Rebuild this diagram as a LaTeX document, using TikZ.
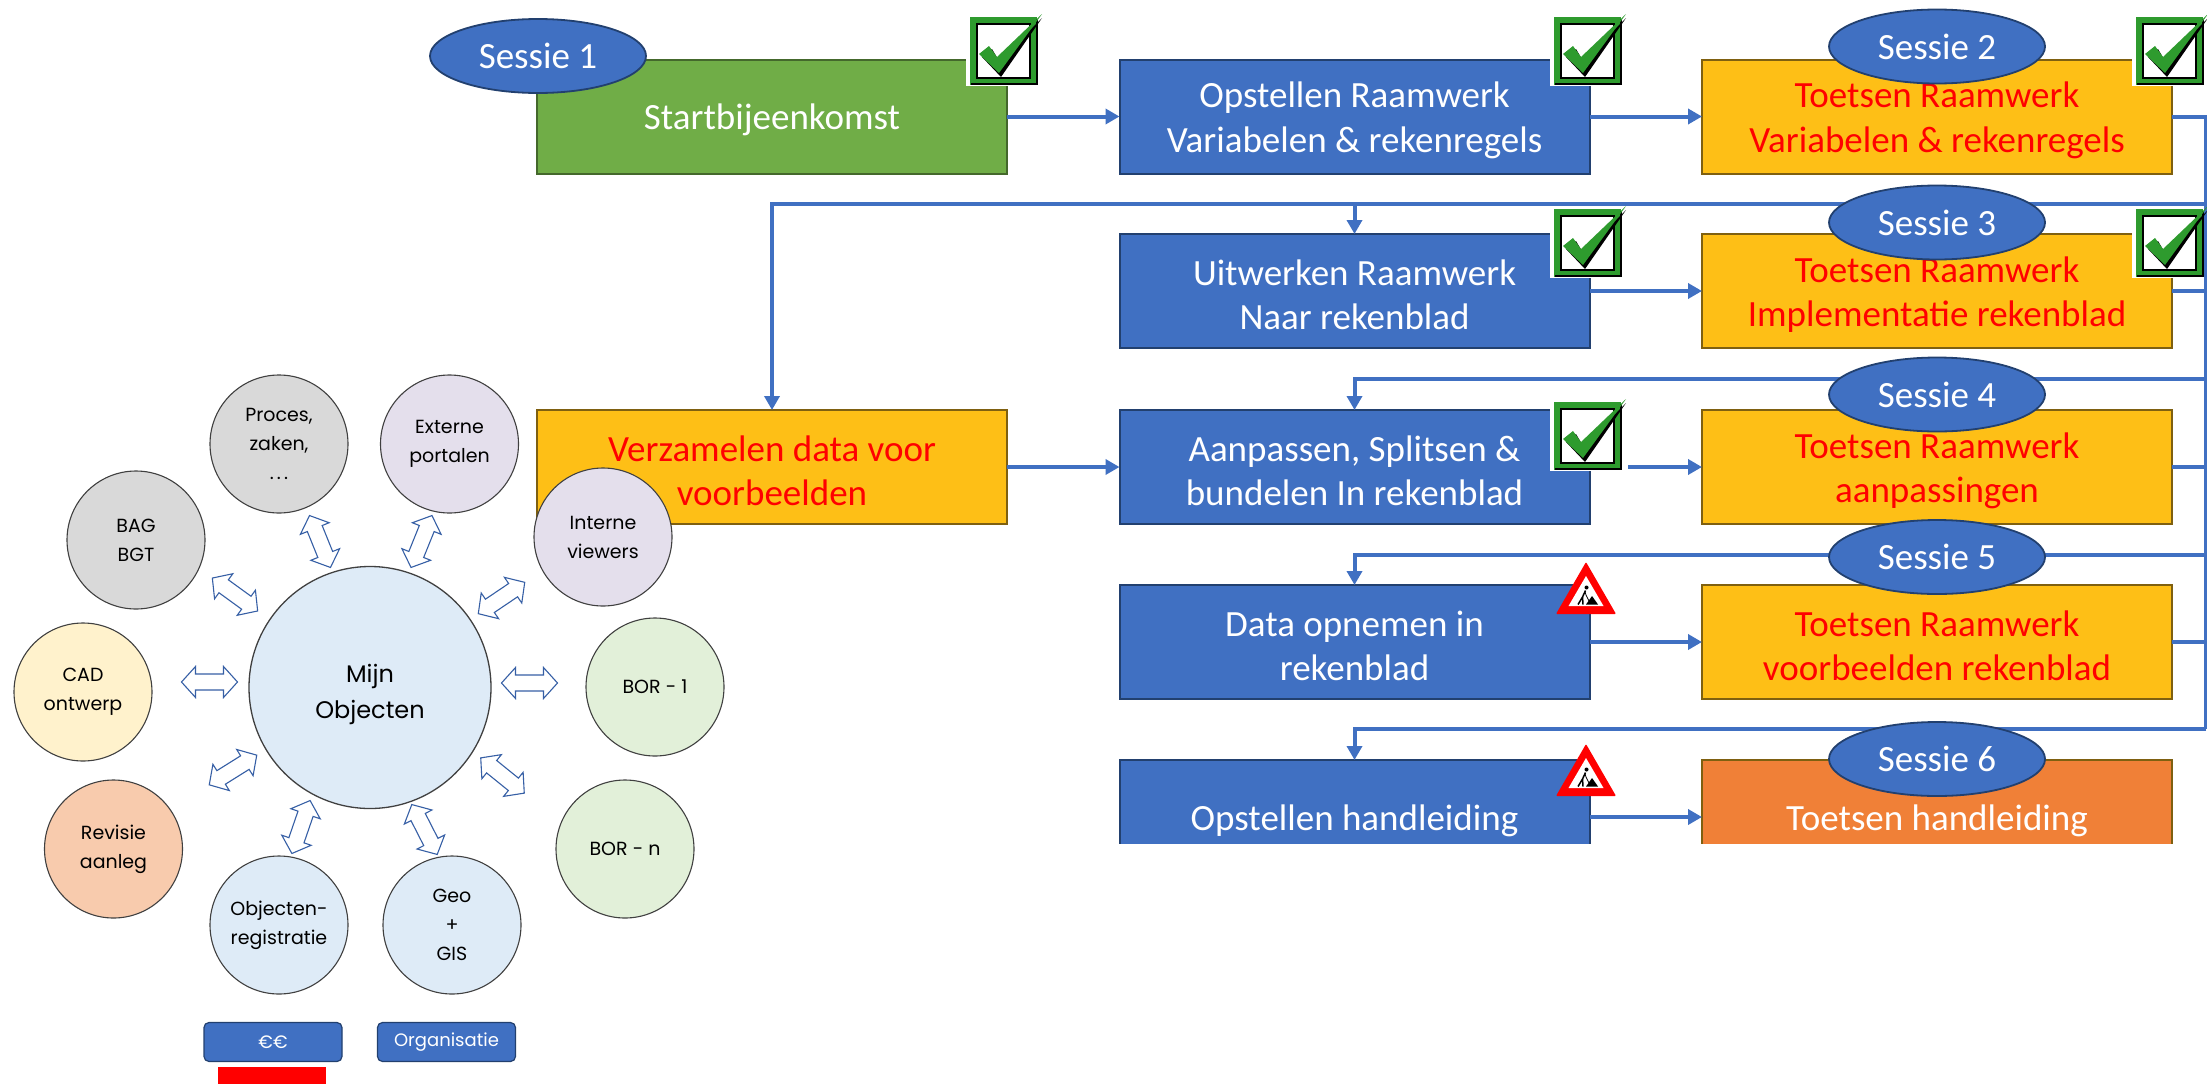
\documentclass[tikz,border=0pt]{standalone}
\usepackage{fontspec}
\setmainfont{Carlito}
\newfontfamily\gothic{Poppins}
\usetikzlibrary{arrows.meta,shapes.geometric}
\definecolor{bl}{HTML}{4070C2}
\definecolor{bld}{HTML}{22406F}
\definecolor{gr}{HTML}{70AD47}
\definecolor{grd}{HTML}{44682C}
\definecolor{ye}{HTML}{FEBF16}
\definecolor{yed}{HTML}{7F6010}
\definecolor{orng}{HTML}{F08037}
\definecolor{tick}{HTML}{2E9B2E}
\definecolor{cblue}{HTML}{DEEBF7}
\definecolor{cgray}{HTML}{D9D9D9}
\definecolor{clav}{HTML}{E4DFEC}
\definecolor{cgreen}{HTML}{E2F0D9}
\definecolor{ccream}{HTML}{FFF2CC}
\definecolor{corng}{HTML}{F8CBAD}
\newcommand{\topfix}{\rule{0pt}{33pt}}
\tikzset{
  box/.style={draw=#1,line width=2pt,minimum width=470pt,minimum height=114pt,inner sep=0pt,outer sep=0pt,align=center,font=\fontsize{37}{44.6}\selectfont},
  bluebox/.style={box=bld,fill=bl,text=white},
  yelbox/.style={box=yed,fill=ye,text=red},
  grnbox/.style={box=grd,fill=gr,text=white},
  ornbox/.style={box=yed,fill=orng,text=white},
  sess/.style={ellipse,draw=bld,line width=1.8pt,fill=bl,text=white,minimum width=216pt,minimum height=74pt,inner sep=0pt,outer sep=0pt,font=\fontsize{37}{40}\selectfont},
  flow/.style={draw=bl,line width=4pt},
  flowa/.style={flow,-{Triangle[length=14pt,width=15pt]}},
  sat/.style={circle,draw=black!75,line width=1.1pt,fill=#1,minimum size=138pt,inner sep=0pt,outer sep=0pt,align=center,font=\gothic\fontsize{19}{29}\selectfont,text=black},
  btn/.style={draw=bld,line width=1.2pt,fill=bl,text=white,rounded corners=5pt,minimum width=138pt,minimum height=39pt,inner sep=0pt,font=\gothic\fontsize{18}{22}\selectfont},
  dbl/.style={draw=bl!85!black,line width=1.1pt,fill=white,line join=miter},
  okbox/.pic={
    \fill[white] (-2,-1) rectangle (70,71);
    \draw[tick,line width=6pt] (5,5) rectangle (66,67);
    \draw[black,line width=2pt] (9,9) rectangle (62,63);
    \draw[black,line width=2pt] (3,69) -- (69,69) -- (69,4);
    \fill[black] (14,42) -- (24,34) -- (31,46) -- (74,3) -- (33,62) -- cycle;
    \fill[tick] (11,39) -- (21,31) -- (29,42) -- (74,-1) -- (31,58) -- cycle;
  },
  warn/.pic={
    \fill[red,rounded corners=1pt] (0,-1) -- (30,51) -- (-30,51) -- cycle;
    \fill[white] (0,13) -- (17.5,43) -- (-17.5,43) -- cycle;
    \fill[black] (0,41.5) -- (6,33) -- (12,41.5) -- cycle;
    \fill[black] (0.5,24.5) circle (2);
    \draw[black,line width=1.5pt] (-0.5,27.5) -- (-3.5,34) -- (-8,41.5);
    \draw[black,line width=1.5pt] (-3.5,34) -- (-3,41.5);
    \draw[black,line width=0.8pt] (-1,29) -- (0,32) -- (3,38);
  },
}
\newcommand{\dblarr}[3]{%
  \draw[dbl,shift={(#1,#2)},rotate=#3]
    (-28,0) -- (-14,15.5) -- (-14,8) -- (14,8) -- (14,15.5) -- (28,0)
    -- (14,-15.5) -- (14,-8) -- (-14,-8) -- (-14,-15.5) -- cycle;}
\begin{document}
\begin{tikzpicture}[x=1pt,y=-1pt]
\useasboundingbox (0,0) rectangle (2207,1084);
\fill[white] (0,0) rectangle (2207,1084);

% process boxes
\node[grnbox] (start) at (772,116.5) {\topfix Startbijeenkomst};
\node[bluebox] (b1) at (1354.5,116.5) {\topfix Opstellen Raamwerk\\Variabelen \& rekenregels};
\node[yelbox] (y1) at (1937,116.5) {\topfix Toetsen Raamwerk\\Variabelen \& rekenregels};
\node[bluebox] (b2) at (1354.5,291) {\topfix Uitwerken Raamwerk\\Naar rekenblad};
\node[yelbox] (y2) at (1937,291) {\topfix Toetsen Raamwerk\\Implementatie rekenblad};
\node[yelbox] (verz) at (772,467) {\topfix Verzamelen data voor\\voorbeelden};
\node[bluebox] (b3) at (1354.5,467) {\topfix Aanpassen, Splitsen \&\\bundelen In rekenblad};
\node[yelbox] (y3) at (1937,467) {\topfix Toetsen Raamwerk\\aanpassingen};
\node[bluebox] (b4) at (1354.5,642) {\topfix Data opnemen in\\rekenblad};
\node[yelbox] (y4) at (1937,642) {\topfix Toetsen Raamwerk\\voorbeelden rekenblad};
\node[bluebox] (b5) at (1354.5,817) {\topfix Opstellen handleiding};
\node[ornbox] (o5) at (1937,817) {\topfix Toetsen handleiding};
\fill[white] (1100,844) rectangle (2207,900);

% connector waypoints
\coordinate (busT) at (2206,116.5);
\coordinate (bus1) at (2206,204);
\coordinate (bus2) at (2206,379);
\coordinate (bus3) at (2206,555);
\coordinate (bus4) at (2206,729);
\coordinate (bus2r) at (2206,291);
\coordinate (bus3r) at (2206,467);
\coordinate (bus4r) at (2206,642);
\coordinate (b3out) at (1628,467);

% connectors
\draw[flowa] (start.east) -- (b1.west);
\draw[flowa] (b1.east) -- (y1.west);
\draw[flowa] (b2.east) -- (y2.west);
\draw[flowa] (verz.east) -- (b3.west);
\draw[flowa] (b3out) -- (y3.west);
\draw[flowa] (b4.east) -- (y4.west);
\draw[flowa] (b5.east) -- (o5.west);
\draw[flow] (y1.east) -- (busT) -- (bus4);
\draw[flow] (y2.east) -- (bus2r);
\draw[flow] (y3.east) -- (bus3r);
\draw[flow] (y4.east) -- (bus4r);
\draw[flowa] (bus1) -- (verz.north |- bus1) -- (verz.north);
\draw[flowa] (b2.north |- bus1) -- (b2.north);
\draw[flowa] (bus2) -- (b3.north |- bus2) -- (b3.north);
\draw[flowa] (bus3) -- (b4.north |- bus3) -- (b4.north);
\draw[flowa] (bus4) -- (b5.north |- bus4) -- (b5.north);

% sessions
\node[sess] (s1) at (538,56) {Sessie 1};
\node[sess] (s2) at (1937,46.5) {Sessie 2};
\node[sess] (s3) at (1937,222.5) {Sessie 3};
\node[sess] (s4) at (1937,394.5) {Sessie 4};
\node[sess] (s5) at (1937,557) {Sessie 5};
\node[sess] (s6) at (1937,759) {Sessie 6};

% status marks
\pic at (968,15) {okbox};
\pic at (1552,15) {okbox};
\pic at (2134,15) {okbox};
\pic at (1552,207) {okbox};
\pic at (2134,207) {okbox};
\pic at (1552,400) {okbox};
\pic at (1586,563) {warn};
\pic at (1586,745) {warn};

% left cluster
\node[circle,draw=black!75,line width=1.3pt,fill=cblue,minimum size=242pt,inner sep=0pt,align=center,text=black,font=\gothic\fontsize{24}{36}\selectfont] (mijn) at (370,687.5) {\rule{0pt}{32pt}Mijn\\Objecten};
\node[sat=cgray] (proc) at (279,444) {Proces,\\zaken,\\.\,.\,.};
\node[sat=clav] (ext) at (449.5,444) {Externe\\portalen};
\node[sat=clav] (int) at (603,537) {Interne\\viewers};
\node[sat=cgray] (bag) at (136,540) {BAG\\BGT};
\node[sat=ccream] (cad) at (83,692) {CAD\\ontwerp};
\node[sat=cgreen] (bor1) at (655,687) {BOR - 1};
\node[sat=corng] (rev) at (113.5,849) {Revisie\\aanleg};
\node[sat=cgreen] (born) at (625,849) {BOR - n};
\node[sat=cblue] (obj) at (279,925) {Objecten-\\registratie};
\node[sat=cblue] (geo) at (452,925) {Geo\\+\\GIS};

\dblarr{320}{541.5}{-68}
\dblarr{421.5}{541.5}{68}
\dblarr{235}{594.5}{-36}
\dblarr{501.5}{598}{34}
\dblarr{209.5}{682}{0}
\dblarr{529.5}{683}{0}
\dblarr{233}{770}{32}
\dblarr{502.5}{775.5}{-39}
\dblarr{301}{827}{71}
\dblarr{424.5}{829.5}{-63}

\node[btn] (eur) at (273,1042) {€€};
\node[btn] (org) at (446.5,1042) {Organisatie};
\fill[red] (218,1067) rectangle (326,1084);
\end{tikzpicture}
\end{document}
